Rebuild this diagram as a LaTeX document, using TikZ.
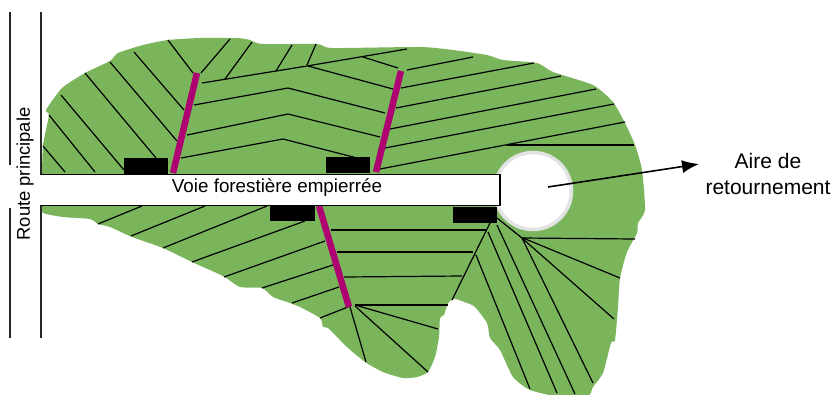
\documentclass[tikz,border=0pt]{standalone}
\usepackage{fontspec}
\setmainfont{Liberation Sans}
\usetikzlibrary{arrows, arrows.meta}
\definecolor{parcelgreen}{HTML}{7AB55C}
\definecolor{skidpurple}{HTML}{AE0070}
\definecolor{ringgrey}{HTML}{E1E3E3}
\tikzset{parcel/.style = {fill = parcelgreen}}
\tikzset{skid/.style = {draw = skidpurple, line width = 6.5pt}}
\tikzset{hatch/.style = {draw = black, line width = 1.2pt}}
\tikzset{landing/.style = {fill = black}}
\tikzset{roadside/.style = {draw = black!85, line width = 1.5pt}}
\tikzset{label/.style = {font = \fontsize{18.8}{26}\selectfont, align = center, inner sep = 0pt}}

\begin{document}
\begin{tikzpicture}[x = 1pt, y = -1pt]
	\useasboundingbox (0, 0) rectangle (835, 394);

	% parcel
	\fill[parcel] plot[smooth, tension = 0.35] coordinates {
		(42, 175) (43, 145) (49, 115) (46, 110) (62, 88) (85, 73) (110, 61) (118, 53)
		(143, 45) (168, 40) (200, 38) (237, 38) (250, 40) (262, 44) (317, 44) (332, 48)
		(420, 47) (453, 50) (487, 55) (503, 60) (537, 63) (553, 72) (593, 85) (613, 102)
		(625, 123) (635, 145) (642, 170) (645, 210) (638, 223) (637, 233) (627, 252)
		(620, 278) (618, 307) (615, 340) (611, 343) (603, 373) (593, 387) (588, 396)
		(560, 397) (530, 390) (513, 377) (500, 350) (490, 338) (487, 323) (475, 307)
		(467, 303) (455, 299) (448, 303) (444, 315) (440, 318) (439, 337) (435, 357)
		(428, 372) (417, 377) (403, 378) (383, 372) (365, 362) (347, 347) (328, 328)
		(323, 327) (320, 318) (300, 307) (287, 302) (273, 297) (262, 288) (240, 287)
		(223, 276) (192, 262) (163, 248) (132, 237) (110, 227) (98, 224) (90, 219)
		(63, 217) (43, 213) (42, 205)
	} -- cycle;

	% turning circle
	\draw[draw = ringgrey, fill = white, line width = 3.5pt] (533, 191) circle (38.5);

	% upper left block
	\draw[hatch] (43, 146) -- (65, 172);
	\draw[hatch] (49, 115) -- (95, 172);
	\draw[hatch] (61, 95) -- (124, 170);
	\draw[hatch] (85, 73) -- (156, 158);
	\draw[hatch] (110, 62) -- (177, 141);
	\draw[hatch] (134, 52) -- (184, 110);
	\draw[hatch] (168, 40) -- (193, 73);
	\draw[hatch] (230, 39) -- (201, 73);
	\draw[hatch] (252, 42) -- (225, 79);
	\draw[hatch] (292, 45) -- (276, 71);
	\draw[hatch] (316, 44) -- (307, 65);

	% upper middle block
	\draw[hatch] (202, 83) -- (307, 66) -- (407, 49);
	\draw[hatch] (363, 57) -- (398, 68);
	\draw[hatch] (308, 66) -- (393, 89);
	\draw[hatch] (194, 105) -- (288, 88) -- (385, 113);
	\draw[hatch] (187, 135) -- (288, 114) -- (380, 137);
	\draw[hatch] (181, 158) -- (283, 139) -- (365, 160);

	% upper right block
	\draw[hatch] (407, 70) -- (473, 57);
	\draw[hatch] (401, 88) -- (534, 63);
	\draw[hatch] (396, 108) -- (561, 76);
	\draw[hatch] (390, 129) -- (596, 89);
	\draw[hatch] (385, 148) -- (614, 104);
	\draw[hatch] (380, 169) -- (625, 122);
	\draw[hatch] (507, 145) -- (634, 145);

	% lower left block
	\draw[hatch] (98, 224) -- (142, 206);
	\draw[hatch] (131, 236) -- (205, 206);
	\draw[hatch] (163, 248) -- (267, 206);
	\draw[hatch] (192, 262) -- (305, 221);
	\draw[hatch] (224, 277) -- (325, 241);
	\draw[hatch] (262, 288) -- (333, 265);
	\draw[hatch] (292, 303) -- (339, 287);
	\draw[hatch] (320, 318) -- (348, 307);

	% lower middle block
	\draw[hatch] (331, 230) -- (487, 230);
	\draw[hatch] (337, 252) -- (473, 252);
	\draw[hatch] (344, 277) -- (462, 276);
	\draw[hatch] (355, 305) -- (448, 305);
	\draw[hatch] (350, 307) -- (366, 362);
	\draw[hatch] (355, 306) -- (428, 372);
	\draw[hatch] (355, 305) -- (438, 329);

	% lower right block
	\draw[hatch] (490, 223) -- (452, 300);
	\draw[hatch] (476, 255) -- (530, 389);
	\draw[hatch] (488, 232) -- (557, 393);
	\draw[hatch] (497, 225) -- (575, 394);
	\draw[hatch] (497, 218) -- (522, 238);
	\draw[hatch] (522, 238) -- (593, 383);
	\draw[hatch] (522, 238) -- (635, 239);
	\draw[hatch] (523, 238) -- (620, 278);
	\draw[hatch] (523, 239) -- (614, 319);

	% landings
	\fill[landing] (124, 158) rectangle (168, 174);
	\fill[landing] (326, 157) rectangle (370, 173);
	\fill[landing] (270, 205) rectangle (315, 221);
	\fill[landing] (453, 207) rectangle (497, 223);

	% skid trails
	\draw[skid] (197, 73) -- (173, 173);
	\draw[skid] (401, 71) -- (376, 172);
	\draw[skid] (319, 206) -- (349, 307);

	% road
	\draw[roadside] (10, 12) -- (10, 165);
	\draw[roadside] (10, 208) -- (10, 338);
	\draw[roadside] (41, 12) -- (41, 175);
	\draw[roadside] (41, 205) -- (41, 338);
	\draw[draw = black, fill = white, line width = 1.5pt] (41, 174.5) -- (500, 174.5) -- (500, 205.5) -- (41, 205.5);

	\node[label] (voie) at (277, 188) {Voie forestière empierrée};
	\node[label, font = \fontsize{18.4}{26}\selectfont, rotate = 90] (route) at (25, 174) {Route principale};
	\node[label, font = \fontsize{21}{26}\selectfont] (aire) at (768, 174) {Aire de\\retournement};

	\coordinate (centre) at (548, 187);
	\coordinate (pointe) at (699, 164);
	\draw[-{Latex[length = 17pt, width = 13pt]}, line width = 1.6pt] (centre) -- (pointe);
\end{tikzpicture}
\end{document}
